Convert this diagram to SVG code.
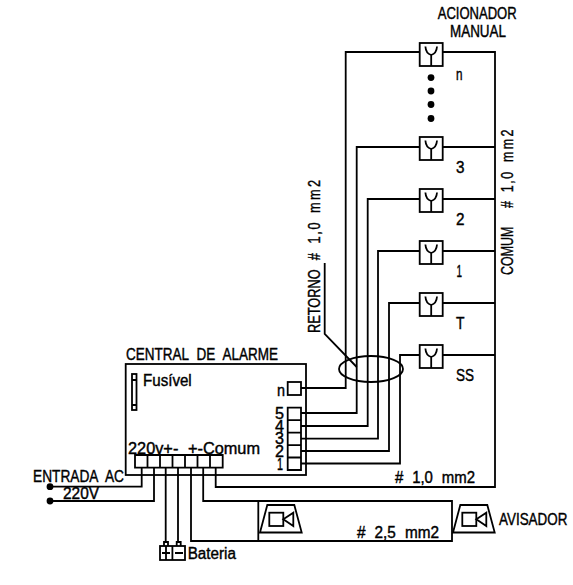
<svg xmlns="http://www.w3.org/2000/svg" width="573" height="585" viewBox="0 0 573 585">
<style>
.l{fill:none;stroke:#000;stroke-width:1.8}
.n{fill:#fff;stroke:#000;stroke-width:1.8}
.t{font-family:"Liberation Sans",Arial,sans-serif;font-size:16px;fill:#000;stroke:#000;stroke-width:.4;word-spacing:5px}
.s2{letter-spacing:2px}
.s3{letter-spacing:3px}
</style>
<defs>
<g id="btn"><rect class="n" x="0" y="0" width="23" height="23"/><path class="l" d="M5.7 3.5C6 8 8 11 11.500 12C15 11 17 8 17.300 3.500M11.500 12V23"/></g>
<g id="spk"><path class="l" d="M0 27.500L7.300 0H34.300L41.700 27.500Z"/><rect class="l" x="9.300" y="7.700" width="14" height="13.300"/><path class="l" d="M23.300 14.300L33.300 7.700V21Z"/></g>
</defs>
<rect width="573" height="585" fill="#fff"/>
<g id="connectors">
<path class="l" d="M442.700 52H495V487H215.700V468"/>
<path class="l" d="M442.700 147H495M442.700 199H495M442.700 251H495M442.700 303H495M442.700 355H495"/>
<path class="l" d="M419.700 52H345.700V388H301"/>
<path class="l" d="M419.700 147H356.700V413H301"/>
<path class="l" d="M419.700 199H367.700V426H301"/>
<path class="l" d="M419.700 251H378V438.700H301"/>
<path class="l" d="M419.700 303H389V451H301"/>
<path class="l" d="M419.700 355H400V463.500H301"/>
<path class="l" d="M141.700 468V486.700H50M154 468V501H50"/>
<path class="l" d="M165.700 468V542M178 468V542"/>
<path class="l" d="M191 468V541H258.300M203.200 468V501H258.300"/>
<path class="l" d="M324.700 263V334L356.700 367"/>
<circle cx="50" cy="486.700" r="3.400" fill="#000"/>
<circle cx="50" cy="501" r="3.400" fill="#000"/>
</g>
<ellipse id="cable-bundle" class="l" cx="371" cy="369" rx="32" ry="13"/>
<g id="central">
<rect class="l" x="125.700" y="364" width="180.300" height="111"/>
<text class="t" x="126" y="360" textLength="152" lengthAdjust="spacingAndGlyphs">CENTRAL DE ALARME</text>
<g id="fuse"><rect class="l" x="132" y="374" width="4.500" height="36"/><path class="l" d="M132 380H136.500M132 405H136.500"/></g>
<text class="t" x="143" y="386" textLength="48.700" lengthAdjust="spacingAndGlyphs">Fusível</text>
<text class="t" x="277" y="395.700" textLength="8" lengthAdjust="spacingAndGlyphs">n</text>
<rect class="l" x="287.700" y="382" width="13.300" height="13"/>
<path class="l" d="M287.700 407.700H301V470H287.700ZM287.700 420.200H301M287.700 432.600H301M287.700 445.100H301M287.700 457.500H301"/>
<text class="t" x="275" y="419" textLength="9" lengthAdjust="spacingAndGlyphs">5</text>
<text class="t" x="275" y="432" textLength="9" lengthAdjust="spacingAndGlyphs">4</text>
<text class="t" x="275" y="444" textLength="9" lengthAdjust="spacingAndGlyphs">3</text>
<text class="t" x="275" y="457" textLength="9" lengthAdjust="spacingAndGlyphs">2</text>
<text class="t" x="277" y="470" textLength="6" lengthAdjust="spacingAndGlyphs">1</text>
<text class="t" x="128" y="454" textLength="132" lengthAdjust="spacingAndGlyphs">220v+- +-Comum</text>
<path class="l" d="M135 455H222.700V467.700H135ZM147.500 455V467.700M160 455V467.700M172.500 455V467.700M185 455V467.700M197.500 455V467.700M210 455V467.700"/>
</g>
<g id="acionador-n"><use href="#btn" x="419.700" y="43"/><circle cx="431" cy="77.600" r="3.400"/><circle cx="431" cy="91" r="3.400"/><circle cx="431" cy="104.500" r="3.400"/><circle cx="431" cy="118.500" r="3.400"/><text class="t" x="456" y="79.500" textLength="6.500" lengthAdjust="spacingAndGlyphs">n</text></g>
<g id="acionador-3"><use href="#btn" x="419.700" y="137"/><text class="t" x="456" y="173" textLength="8.500" lengthAdjust="spacingAndGlyphs">3</text></g>
<g id="acionador-2"><use href="#btn" x="419.700" y="189"/><text class="t" x="456" y="225" textLength="8.500" lengthAdjust="spacingAndGlyphs">2</text></g>
<g id="acionador-1"><use href="#btn" x="419.700" y="241"/><text class="t" x="456.500" y="277" textLength="5.500" lengthAdjust="spacingAndGlyphs">1</text></g>
<g id="acionador-T"><use href="#btn" x="419.700" y="293"/><text class="t" x="456" y="329" textLength="8.500" lengthAdjust="spacingAndGlyphs">T</text></g>
<g id="acionador-SS"><use href="#btn" x="419.700" y="345"/><text class="t" x="456" y="381" textLength="18" lengthAdjust="spacingAndGlyphs">SS</text></g>
<g id="titulo">
<text class="t" x="437.700" y="19" textLength="79" lengthAdjust="spacingAndGlyphs">ACIONADOR</text>
<text class="t" x="450" y="37" textLength="56" lengthAdjust="spacingAndGlyphs">MANUAL</text>
</g>
<g id="rotulos">
<text class="t" transform="translate(513 275) rotate(-90) scale(.78 1)">COMUM <tspan x="86">#</tspan> <tspan x="106" class="s2">1,0</tspan> <tspan x="145" class="s3">mm2</tspan></text>
<text class="t" transform="translate(320 333) rotate(-90) scale(.8 1)">RETORNO <tspan x="91">#</tspan> <tspan x="112" class="s2">1,0</tspan> <tspan x="150" class="s3">mm2</tspan></text>
<text class="t" x="33" y="481.700" textLength="91" lengthAdjust="spacingAndGlyphs">ENTRADA AC</text>
<text class="t" x="63" y="499" textLength="36" lengthAdjust="spacingAndGlyphs">220V</text>
<text class="t" x="395" y="483" textLength="80" lengthAdjust="spacingAndGlyphs"># 1,0 mm2</text>
<text class="t" x="357" y="538" textLength="82" lengthAdjust="spacingAndGlyphs"># 2,5 mm2</text>
</g>
<g id="bateria">
<path class="n" d="M164 546V542H168V546M176.700 546V542H180.700V546"/>
<rect class="l" x="160" y="546" width="25" height="14"/>
<path class="l" d="M172.400 546V560M162 553H170M166 546V560M175 553H183"/>
<text class="t" x="187.700" y="559" textLength="48.300" lengthAdjust="spacingAndGlyphs">Bateria</text>
</g>
<g id="circuito-avisador">
<path class="l" d="M258.300 501H452V541H258.300Z"/>
</g>
<g id="avisador-1"><use href="#spk" x="260" y="505"/></g>
<g id="avisador-2"><use href="#spk" x="453" y="505"/><text class="t" transform="translate(499 525) scale(.84 1)">AVISADOR</text></g>
</svg>
